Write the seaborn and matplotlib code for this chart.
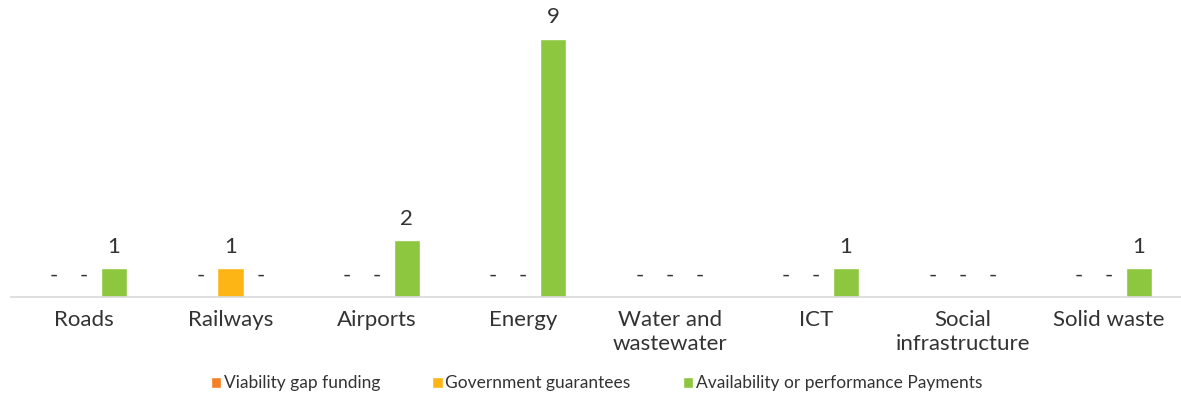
import matplotlib
matplotlib.use("Agg")
import matplotlib.pyplot as plt
import seaborn as sns
import pandas as pd

categories = ["Roads", "Railways", "Airports", "Energy", "Water and\nwastewater",
              "ICT", "Social\ninfrastructure", "Solid waste"]
series = ["Viability gap funding", "Government guarantees",
          "Availability or performance Payments"]
viability_gap = [0, 0, 0, 0, 0, 0, 0, 0]
gov_guarantees = [0, 1, 0, 0, 0, 0, 0, 0]
availability = [1, 0, 2, 9, 0, 1, 0, 1]
colors = ["#F58025", "#FDB515", "#8DC63F"]

sns.set_theme(style="white")
plt.rcParams["font.family"] = ["Lato", "DejaVu Sans"]

rows = []
for s, vals in zip(series, [viability_gap, gov_guarantees, availability]):
    for c, v in zip(categories, vals):
        rows.append({"category": c, "series": s, "value": v})
df = pd.DataFrame(rows)

fig = plt.figure(figsize=(11.81, 3.94), dpi=100)
ax = fig.add_axes([0.009, 0.246, 0.992, 0.729])

sns.barplot(data=df, x="category", y="value", hue="series", hue_order=series,
            order=categories, palette=colors, width=0.615, gap=0.12,
            saturation=1, ax=ax, legend=True)

for cont in ax.containers:
    labels = ["-" if b.get_height() == 0 else f"{int(b.get_height())}" for b in cont]
    ax.bar_label(cont, labels=labels, padding=8, fontsize=16, color="#333333")

ax.set_ylim(0, 10)
ax.set_xlim(-0.5, len(categories) - 0.5)
ax.set_xlabel("")
ax.set_ylabel("")
ax.set_yticks([])
for sp in ["top", "right", "left"]:
    ax.spines[sp].set_visible(False)
ax.spines["bottom"].set_color("#D9D9D9")
ax.spines["bottom"].set_linewidth(1.2)
ax.tick_params(axis="x", length=0, pad=9, labelsize=16, labelcolor="#333333")
for t in ax.get_xticklabels():
    t.set_linespacing(1.25)

ax.legend(loc="center", bbox_to_anchor=(0.5, -0.3), ncol=3, frameon=False,
          fontsize=12.5, handlelength=0.6, handleheight=0.6, handletextpad=0.15,
          columnspacing=3.0, labelcolor="#333333")

fig.savefig("out.png", dpi=100)
